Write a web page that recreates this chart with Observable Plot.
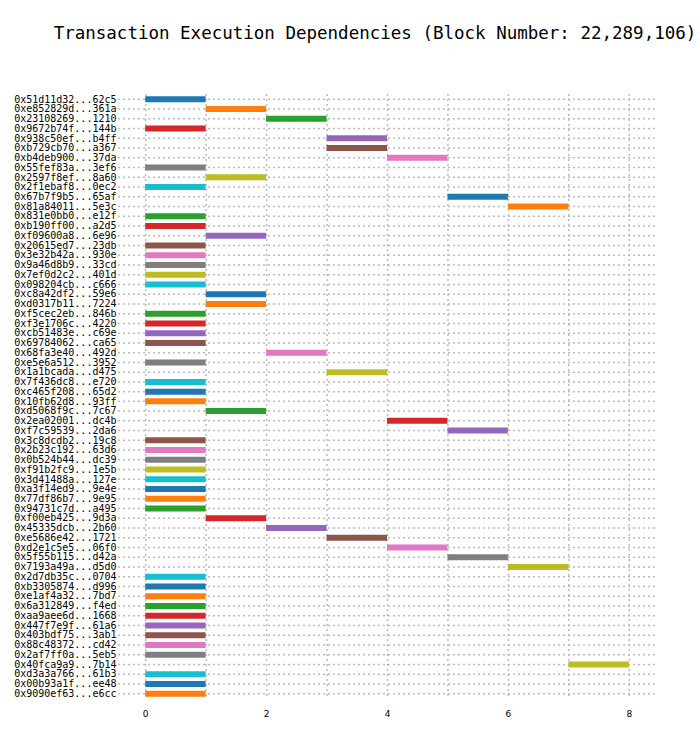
<!DOCTYPE html>
<html>
<head>
<meta charset="utf-8">
<script src="https://cdn.jsdelivr.net/npm/d3@7"></script>
<script src="https://cdn.jsdelivr.net/npm/@observablehq/plot@0.6"></script>
<style>
  body { margin: 0; background: #fff; }
  #title { height: 66px; line-height: 66px; font-family: "DejaVu Sans Mono", monospace; font-size: 17.5px; text-align: center; padding-left: 50px; color: #000; }
</style>
</head>
<body>
<div id="title">Transaction Execution Dependencies (Block Number: 22,289,106)</div>
<div id="chart"></div>
<script>
const txs = [
  "0x51d11d32...62c5","0xe852829d...361a","0x23108269...1210","0x9672b74f...144b","0x938c50ef...b4ff",
  "0xb729cb70...a367","0xb4deb900...37da","0x55fef83a...3ef6","0x2597f8ef...8a60","0x2f1ebaf8...0ec2",
  "0x67b7f9b5...65af","0x81a84011...5e3c","0x831e0bb0...e12f","0xb190ff00...a2d5","0xf09600a8...6e96",
  "0x20615ed7...23db","0x3e32b42a...930e","0x9a46d8b9...33cd","0x7ef0d2c2...401d","0x098204cb...c666",
  "0xc8a42df2...59e6","0xd0317b11...7224","0xf5cec2eb...846b","0xf3e1706c...4220","0xcb51483e...c69e",
  "0x69784062...ca65","0x68fa3e40...492d","0xe5e6a512...3952","0x1a1bcada...d475","0x7f436dc8...e720",
  "0xc465f208...65d2","0x10fb62d8...93ff","0xd5068f9c...7c67","0x2ea02001...dc4b","0xf7c59539...2da6",
  "0x3c8dcdb2...19c8","0x2b23c192...63d6","0x0b524b44...dc39","0xf91b2fc9...1e5b","0x3d41488a...127e",
  "0xa3f14ed9...9e4e","0x77df86b7...9e95","0x94731c7d...a495","0xf00eb425...9d3a","0x45335dcb...2b60",
  "0xe5686e42...1721","0xd2e1c5e5...06f0","0x5f55b115...d42a","0x7193a49a...d5d0","0x2d7db35c...0704",
  "0xb3305874...d996","0xe1af4a32...7bd7","0x6a312849...f4ed","0xaa9aee6d...1668","0x447f7e9f...61a6",
  "0x403bdf75...3ab1","0x88c48372...cd42","0x2af7ff0a...5eb5","0x40fca9a9...7b14","0xd3a3a766...61b3",
  "0x00b93a1f...ee48","0x9090ef63...e6cc"
];
const starts = [
  0,1,2,0,3, 3,4,0,1,0, 5,6,0,0,1, 0,0,0,0,0,
  1,1,0,0,0, 0,2,0,3,0, 0,0,1,4,5, 0,0,0,0,0,
  0,0,0,1,2, 3,4,5,6,0, 0,0,0,0,0, 0,0,0,7,0,
  0,0
];
const durations = starts.map(() => 1);
const palette = d3.schemeCategory10;

const data = txs.map((tx, i) => ({tx, start: starts[i], end: starts[i] + durations[i], color: palette[i % 10]}));

const chart = Plot.plot({
  width: 700,
  height: 678,
  marginLeft: 118,
  marginRight: 44,
  marginTop: 28,
  marginBottom: 46,
  style: {fontFamily: "DejaVu Sans Mono, monospace", fontSize: "10px", color: "#000"},
  x: {domain: [-0.45, 8.45], ticks: [0, 2, 4, 6, 8], tickSize: 0, tickPadding: 12, label: null, tickFormat: d3.format("d")},
  y: {type: "point", domain: txs, padding: 0.5, label: null, tickSize: 0, tickPadding: 2},
  marks: [
    Plot.ruleX(d3.range(0, 9), {stroke: "#bbb", strokeWidth: 1.5, strokeDasharray: "2,3"}),
    Plot.ruleY(txs, {y: d => d, stroke: "#bbb", strokeWidth: 1.5, strokeDasharray: "2,3"}),
    Plot.ruleY(data, {y: "tx", x1: "start", x2: "end", stroke: "color", strokeWidth: 6}),
    Plot.axisY({tickSize: 0, tickPadding: 2, fontSize: 10}),
    Plot.axisX({ticks: [0, 2, 4, 6, 8], tickSize: 0, tickPadding: 12, fontSize: 9, fontFamily: "DejaVu Sans, sans-serif"})
  ]
});
d3.select("#chart").append(() => chart);
</script>
</body>
</html>
